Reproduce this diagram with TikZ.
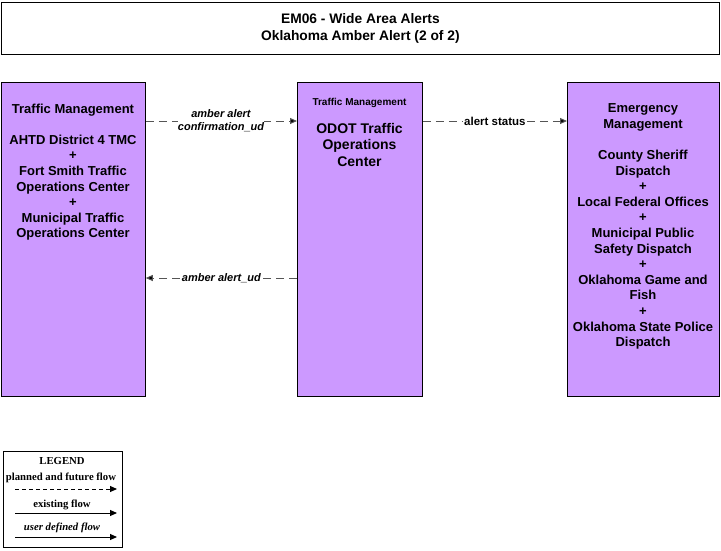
\documentclass[tikz,border=0pt]{standalone}
\usepackage{fontspec}
\setmainfont{Liberation Sans}
\newfontfamily\serifleg{Liberation Serif}
\usetikzlibrary{arrows.meta}
\definecolor{boxpurple}{HTML}{CC99FF}
\definecolor{flowgray}{HTML}{555555}
\tikzset{
  elembox/.style={draw=black, fill=boxpurple, line width=0.8pt, inner sep=0pt, anchor=north west},
  boxtext/.style={align=center, anchor=north, inner sep=0pt, font=\fontsize{13}{15.6}\selectfont\bfseries},
  flow/.style={draw=flowgray, line width=1pt, dash pattern=on 8pt off 5pt, -{Triangle[length=7pt,width=6pt,fill=black]}},
  flowlabel/.style={fill=white, inner sep=1pt, align=center, font=\fontsize{11}{13}\selectfont\bfseries\itshape},
  legarrow/.style={draw=black, line width=1pt, -{Triangle[length=7pt,width=6pt]}},
  legtext/.style={inner sep=0pt, font=\fontsize{10.7}{12}\selectfont\serifleg\bfseries}
}
\begin{document}
\begin{tikzpicture}[x=1pt,y=-1pt]
\useasboundingbox (0,0) rectangle (721,550);
% title
\node[draw=black, line width=0.8pt, minimum width=718pt, minimum height=52pt, anchor=north west, inner sep=0pt,
      align=center, font=\fontsize{13.8}{17}\selectfont\bfseries] (title) at (1,2) {EM06 - Wide Area Alerts\\Oklahoma Amber Alert (2 of 2)};
% boxes
\node[elembox, minimum width=144pt, minimum height=314pt] (left) at (1,82) {};
\node[elembox, minimum width=125pt, minimum height=314pt] (mid) at (297,82) {};
\node[elembox, minimum width=152pt, minimum height=314pt] (right) at (567,82) {};
% texts
\node[boxtext] (lefttxt) at (73,103.5) {Traffic Management\\[15.6pt]AHTD District 4 TMC\\+\\Fort Smith Traffic\\Operations Center\\+\\Municipal Traffic\\Operations Center};
\node[boxtext, font=\fontsize{10}{11}\selectfont\bfseries] (midhead) at (359.5,98.5) {Traffic Management};
\node[boxtext, font=\fontsize{14}{16.5}\selectfont\bfseries] (midtxt) at (359.5,123) {ODOT Traffic\\Operations\\Center};
\node[boxtext] (righttxt) at (643,103.5) {Emergency\\Management\\[15.6pt]County Sheriff\\Dispatch\\+\\Local Federal Offices\\+\\Municipal Public\\Safety Dispatch\\+\\Oklahoma Game and\\Fish\\+\\Oklahoma State Police\\Dispatch};
% flows
\coordinate (l1) at (left.east |- 0,121);
\coordinate (m1) at (mid.west |- 0,121);
\coordinate (m2) at (mid.east |- 0,121);
\coordinate (r1) at (right.west |- 0,121);
\coordinate (m3) at (mid.west |- 0,278);
\coordinate (l3) at (left.east |- 0,278);
\draw[flow] (l1) -- (m1);
\node[flowlabel, fill=white, inner sep=0pt] (lab1) at (221,121) {amber alert\\confirmation\_ud};
\draw[flow] (m2) -- node[flowlabel, font=\fontsize{11.5}{13}\selectfont\bfseries] (lab2) {alert status} (r1);
\draw[flow] (m3) -- node[flowlabel] (lab3) {amber alert\_ud} (l3);
% legend
\node[draw=black, line width=0.8pt, minimum width=119pt, minimum height=96pt, anchor=north west, inner sep=0pt] (legend) at (3,451) {};
\node[legtext, font=\fontsize{10.7}{12}\selectfont\serifleg\bfseries] (legtitle) at (62,461) {LEGEND};
\node[legtext] (lt1) at (61,478) {planned and future flow};
\node[legtext] (lt2) at (62,505) {existing flow};
\node[legtext, font=\fontsize{10.7}{12}\selectfont\serifleg\bfseries\itshape] (lt3) at (62,528) {user defined flow};
\coordinate (a1s) at (15,489); \coordinate (a1e) at (117,489);
\coordinate (a2s) at (15,513); \coordinate (a2e) at (117,513);
\coordinate (a3s) at (15,537); \coordinate (a3e) at (117,537);
\draw[legarrow, dash pattern=on 4pt off 3pt] (a1s) -- (a1e);
\draw[legarrow] (a2s) -- (a2e);
\draw[legarrow] (a3s) -- (a3e);
\end{tikzpicture}
\end{document}
